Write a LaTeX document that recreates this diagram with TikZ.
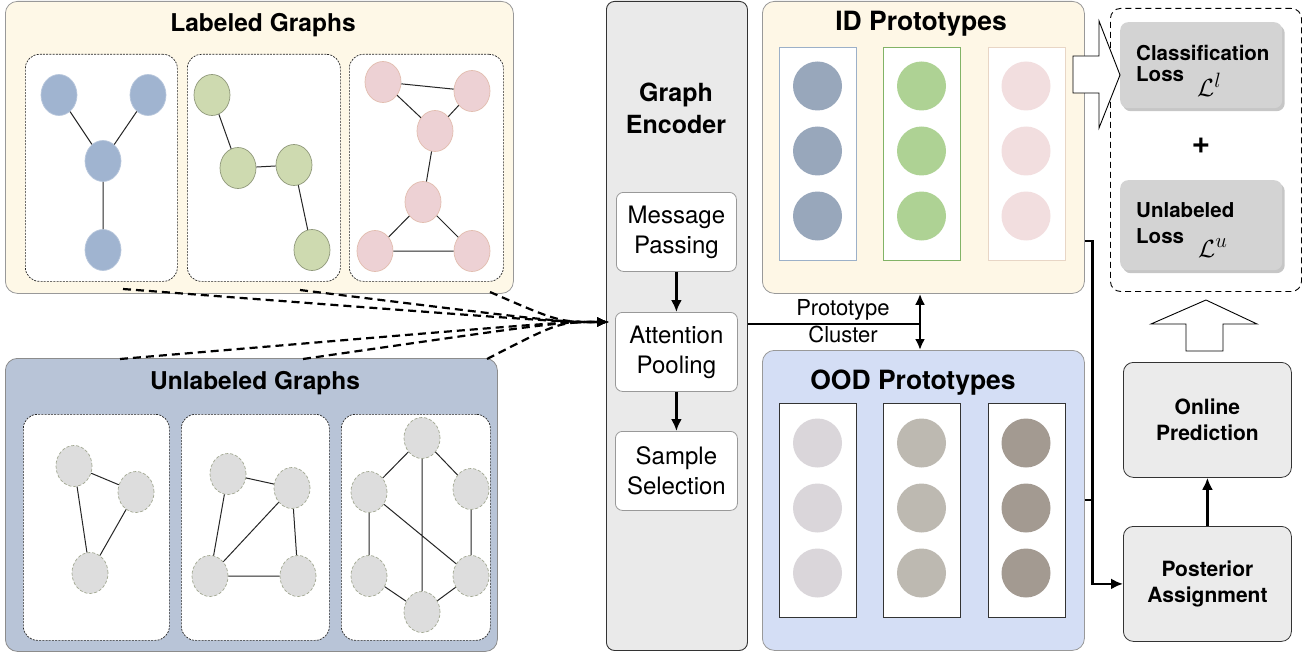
\documentclass[tikz,border=0pt]{standalone}
\usepackage{fontspec}
\setmainfont{TeX Gyre Heros}
\usetikzlibrary{shapes.geometric,arrows.meta,shadows,calc}

% palette
\definecolor{labbg}{HTML}{FEF8E7}
\definecolor{unlabbg}{HTML}{B8C4D7}
\definecolor{encbg}{HTML}{EAEAEA}
\definecolor{idbg}{HTML}{FEF7E6}
\definecolor{oodbg}{HTML}{D4DEF5}
\definecolor{lossbg}{HTML}{D3D3D3}
\definecolor{stepbg}{HTML}{EBEBEB}
\definecolor{nodeblue}{HTML}{A0B4D0}
\definecolor{nodegreen}{HTML}{CEDAB0}
\definecolor{nodepink}{HTML}{EDD1D4}
\definecolor{nodegray}{HTML}{DDDDDD}
\definecolor{nodedash}{HTML}{A2A892}
\definecolor{protoblue}{HTML}{98A7BB}
\definecolor{protogreen}{HTML}{AED294}
\definecolor{protopink}{HTML}{F2DEDF}
\definecolor{oodlight}{HTML}{DAD6DA}
\definecolor{oodmid}{HTML}{BDB9B1}
\definecolor{ooddark}{HTML}{A39A91}
\definecolor{colblue}{HTML}{9CB0C8}
\definecolor{colgreen}{HTML}{82B366}
\definecolor{colpink}{HTML}{E8D6C6}

% box node spanning (x1,y1)-(x2,y2), with optional text
\newcommand\boxnode[7]{%
  \node[#1, anchor=north west, minimum width={(#5)-(#3)}, minimum height={(#6)-(#4)}] (#2) at (#3,#4) {#7};}

\tikzset{
  panel/.style={draw=black!40, line width=0.8pt, rounded corners=12pt, inner sep=0pt},
  subpanel/.style={draw=black!85, fill=white, line width=0.7pt, dash pattern=on 2pt off 1.2pt,
                   rounded corners=14pt, inner sep=0pt},
  gnode/.style={ellipse, minimum width=36pt, minimum height=41pt, inner sep=0pt, line width=0.7pt},
  bluenode/.style={gnode, fill=nodeblue, draw=nodeblue!75!white},
  greennode/.style={gnode, fill=nodegreen, draw=nodegreen!70!black},
  pinknode/.style={gnode, fill=nodepink, draw=nodepink!75!brown},
  graynode/.style={gnode, fill=nodegray, draw=nodedash, dash pattern=on 3pt off 2pt},
  gedge/.style={line width=1pt, draw=black!85},
  bigtitle/.style={font=\fontsize{24.5}{28}\selectfont\bfseries, anchor=base, inner sep=0pt},
  prototitle/.style={font=\fontsize{26.5}{30}\selectfont\bfseries, anchor=base, inner sep=0pt},
  enctitle/.style={font=\fontsize{25}{30}\selectfont\bfseries, anchor=base, inner sep=0pt},
  stepbox/.style={draw=black!40, fill=white, line width=0.8pt, rounded corners=7pt, inner sep=0pt,
                  align=center, font=\fontsize{24}{30}\selectfont},
  col/.style={fill=white, line width=0.8pt, anchor=north west, minimum width=77pt, inner sep=0pt},
  proto/.style={circle, minimum size=49pt, inner sep=0pt},
  lossbox/.style={fill=lossbg, rounded corners=8pt, inner sep=0pt,
                  drop shadow={shadow xshift=2.5pt, shadow yshift=-3pt, opacity=0.45}},
  losstext/.style={font=\fontsize{20.5}{24}\selectfont\bfseries, anchor=base west, inner sep=0pt},
  lossmath/.style={font=\fontsize{31}{33}\selectfont, anchor=base west, inner sep=0pt},
  sidebox/.style={draw=black!80, fill=stepbg, line width=0.8pt, rounded corners=10pt, inner sep=0pt,
                  align=center, font=\fontsize{21}{26}\selectfont\bfseries},
  flow/.style={line width=2.8pt, -{Latex[length=12pt,width=11pt]}},
  flowline/.style={line width=2.8pt},
  feed/.style={line width=2.2pt, dash pattern=on 8pt off 5pt, -{Latex[length=12pt,width=10pt]}},
  hollow/.style={draw=black, fill=white, line width=0.9pt, line join=miter},
  plain/.style={font=\fontsize{22}{26}\selectfont, anchor=base, inner sep=0pt},
}

\begin{document}
\begin{tikzpicture}[x=1pt, y=-1pt]
\useasboundingbox (0,0) rectangle (1313,655);

% ---------------- labeled graphs ----------------
\boxnode{panel, fill=labbg}{lab}{5}{1}{513}{293}{}
\node[bigtitle] (labtitle) at (263,32) {Labeled Graphs};
\boxnode{subpanel}{lab1}{25}{54}{177}{281}{}
\boxnode{subpanel}{lab2}{187}{54}{340}{281}{}
\boxnode{subpanel}{lab3}{349}{54}{503}{281}{}

\node[bluenode] (a1) at (59,95) {};
\node[bluenode] (a2) at (148,95) {};
\node[bluenode] (a3) at (103,161) {};
\node[bluenode] (a4) at (103,250) {};
\draw[gedge] (a1) -- (a3) (a2) -- (a3) (a3) -- (a4);

\node[greennode] (b1) at (212,95) {};
\node[greennode] (b2) at (238,168) {};
\node[greennode] (b3) at (294,165) {};
\node[greennode] (b4) at (312,250) {};
\draw[gedge] (b1) -- (b2) (b2) -- (b3) (b3) -- (b4);

\node[pinknode] (c1) at (383,82) {};
\node[pinknode] (c2) at (472,91) {};
\node[pinknode] (c3) at (435,131) {};
\node[pinknode] (c4) at (423,202) {};
\node[pinknode] (c5) at (375,251) {};
\node[pinknode] (c6) at (472,251) {};
\draw[gedge] (c1) -- (c2) (c1) -- (c3) (c2) -- (c3) (c3) -- (c4)
             (c4) -- (c5) (c4) -- (c6) (c5) -- (c6);

% ---------------- unlabeled graphs ----------------
\boxnode{panel, fill=unlabbg, draw=black!45}{unl}{5}{358}{497}{651}{}
\node[bigtitle] (unltitle) at (255,389) {Unlabeled Graphs};
\boxnode{subpanel}{unl1}{23}{414}{169}{640}{}
\boxnode{subpanel}{unl2}{181}{414}{329}{640}{}
\boxnode{subpanel}{unl3}{341}{414}{490}{640}{}

\node[graynode] (d1) at (74,466) {};
\node[graynode] (d2) at (136,492) {};
\node[graynode] (d3) at (90,573) {};
\draw[gedge] (d1) -- (d2) (d1) -- (d3) (d2) -- (d3);

\node[graynode] (e1) at (228,474) {};
\node[graynode] (e2) at (292,488) {};
\node[graynode] (e3) at (210,576) {};
\node[graynode] (e4) at (298,576) {};
\draw[gedge] (e1) -- (e2) (e1) -- (e3) (e2) -- (e3) (e2) -- (e4) (e3) -- (e4);

\node[graynode] (f1) at (422,438) {};
\node[graynode] (f2) at (369,492) {};
\node[graynode] (f3) at (471,489) {};
\node[graynode] (f4) at (369,576) {};
\node[graynode] (f5) at (471,576) {};
\node[graynode] (f6) at (422,612) {};
\draw[gedge] (f1) -- (f2) (f1) -- (f3) (f1) -- (f6) (f2) -- (f5)
             (f2) -- (f4) (f3) -- (f5) (f4) -- (f6) (f5) -- (f6);

% ---------------- graph encoder ----------------
\boxnode{draw=black!80, fill=encbg, line width=0.9pt, rounded corners=8pt, inner sep=0pt}{enc}{606}{1}{747}{650}{}
\node[enctitle] (enct1) at (676,102) {Graph};
\node[enctitle] (enct2) at (676,134) {Encoder};
\boxnode{stepbox}{mp}{616}{192}{736}{271}{Message\\Passing}
\boxnode{stepbox}{attn}{615}{312}{737}{391}{Attention\\Pooling}
\boxnode{stepbox}{sel}{615}{431}{737}{510}{Sample\\Selection}
\draw[flow] (mp.south) -- (attn.north);
\draw[flow] (attn.south) -- (sel.north);

% graphs feeding the encoder
\coordinate (encin) at (609,322);
\coordinate (ls1) at (123,289);
\coordinate (ls2) at (300,290);
\coordinate (ls3) at (490,292);
\coordinate (us1) at (120,359);
\coordinate (us2) at (303,359);
\coordinate (us3) at (487,359);
\foreach \s in {ls1,ls2,ls3,us1,us2,us3}
  \draw[feed] (\s) .. controls ($(encin)+(-50,0)$) .. (encin);

% ---------------- ID prototypes ----------------
\boxnode{panel, fill=idbg}{id}{762}{1}{1084}{293}{}
\node[prototitle] (idtitle) at (921,31) {ID Prototypes};
\foreach \x/\bc [count=\i] in {779/colblue,883/colgreen,988/colpink}
  \node[col, draw=\bc, minimum height=213pt] (idcol\i) at (\x,47) {};
\foreach \cx/\pc [count=\i] in {817.5/protoblue,921.5/protogreen,1026/protopink}
  \foreach \cy [count=\j] in {86,151,216}
    \node[proto, fill=\pc] (idp\i\j) at (\cx,\cy) {};

% ---------------- OOD prototypes ----------------
\boxnode{panel, fill=oodbg}{ood}{762}{350}{1084}{650}{}
\node[prototitle] (oodtitle) at (913,389) {OOD Prototypes};
\foreach \x [count=\i] in {779,883,988}
  \node[col, draw=black!80, minimum height=214pt] (oodcol\i) at (\x,403) {};
\foreach \cx/\pc [count=\i] in {817.5/oodlight,921.5/oodmid,1026/ooddark}
  \foreach \cy [count=\j] in {443,508,573}
    \node[proto, fill=\pc] (oodp\i\j) at (\cx,\cy) {};

% prototype clustering link
\coordinate (encout) at (enc.east |- 0,324);
\coordinate (junction) at (920,324);
\draw[flowline] (encout) -- (junction);
\draw[line width=2.8pt, {Latex[length=11pt,width=10pt]}-{Latex[length=11pt,width=10pt]}]
  (id.south -| junction) -- (ood.north -| junction);
\node[plain] (pc1) at (843,315) {Prototype};
\node[plain] (pc2) at (843,342) {Cluster};

% ---------------- losses ----------------
\boxnode{draw=black, line width=0.9pt, dash pattern=on 6pt off 4pt, rounded corners=10pt, inner sep=0pt}{lossgrp}{1110}{8}{1301}{291}{}
\boxnode{lossbox}{cls}{1120}{22}{1282}{108}{}
\node[losstext] (clst1) at (1136,61) {Classification};
\node[losstext] (clst2) at (1136,82) {Loss};
\node[lossmath] (clsm) at (1197,97) {$\mathcal{L}^{l}$};
\node[font=\fontsize{32}{34}\selectfont\bfseries, inner sep=0pt] (plus) at (1201,146) {+};
\boxnode{lossbox}{ulb}{1120}{180}{1282}{270}{}
\node[losstext] (ulbt1) at (1136,217) {Unlabeled};
\node[losstext] (ulbt2) at (1136,243) {Loss};
\node[lossmath] (ulbm) at (1198,257) {$\mathcal{L}^{u}$};

% hollow arrow from ID prototypes into the classification loss
\draw[hollow] (1073,56) -- (1099,56) -- (1099,21) -- (cls.west |- 0,75) -- (1099,128)
  -- (1099,93) -- (1073,93) -- cycle;

% ---------------- online prediction path ----------------
\boxnode{sidebox}{online}{1123}{362}{1291}{477}{Online\\Prediction}
\boxnode{sidebox}{post}{1123}{526}{1291}{641}{Posterior\\Assignment}
\draw[flow] (post) -- (online);

% hollow arrow from online prediction up to the losses
\draw[hollow] (1186,351) -- (1186,324) -- (1151,324) -- (lossgrp.south |- 0,300) -- (1257,324)
  -- (1223,324) -- (1223,351) -- cycle;

% prototypes feeding the posterior assignment
\coordinate (idout) at (id.east |- 0,241);
\coordinate (oodout) at (ood.east |- 0,500);
\draw[flow] (idout) -- ++(8,0) coordinate (bend) |- (post.west);
\draw[flowline] (oodout) -- (bend |- oodout);

\end{tikzpicture}
\end{document}
